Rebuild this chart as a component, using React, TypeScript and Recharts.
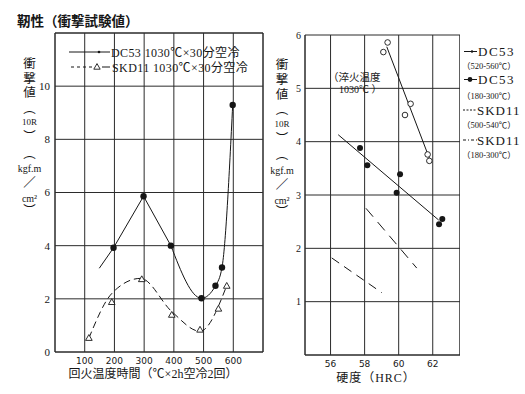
import React from 'react';
import { ComposedChart, Line, XAxis, YAxis, CartesianGrid, ReferenceLine } from 'recharts';

const SERIF = '"Liberation Serif", "Noto Sans CJK JP", serif';
const SANS = '"DejaVu Sans", "Noto Sans CJK JP", sans-serif';
const INK = '#161616';
const GRID = '#2b2b2b';

// left panel: tempering temperature (°C) vs impact value
const temperTicks = [100, 200, 300, 400, 500, 600];
const impactTicks = [0, 2, 4, 6, 8, 10];

const dc53Temps = [197, 298, 390, 493, 540, 562, 598];
const dc53Impact = [3.92, 5.86, 4.0, 2.02, 2.49, 3.18, 9.29];
// straight part of the DC53 trace, then the curved part
const dc53LineTemps = [149, 197, 298, 390];
const dc53LineImpact = [3.15, 3.92, 5.86, 4.0];
const dc53CurveTemps = [390, 493, 540, 562, 598];
const dc53CurveImpact = [4.0, 2.02, 2.49, 3.18, 9.29];

const skd11Temps = [114, 191, 292, 393, 488, 550, 578];
const skd11Impact = [0.52, 1.87, 2.73, 1.39, 0.83, 1.62, 2.48];
const skd11CurveTemps = [114, 191, 288, 393, 488, 578];
const skd11CurveImpact = [0.52, 2.2, 2.77, 1.52, 0.78, 2.5];

// right panel: hardness (HRC) vs impact value
const hrcTicks = [56, 58, 60, 62];
const impactTicksR = [1, 2, 3, 4, 5, 6];

const dc53HighHrc = [59.1, 59.35, 60.37, 60.7, 61.7, 61.8];
const dc53HighImpact = [5.68, 5.86, 4.5, 4.71, 3.76, 3.64];
const dc53HighFitHrc = [59.3, 61.8];
const dc53HighFitImpact = [5.78, 3.69];

const dc53LowHrc = [57.73, 58.16, 60.08, 59.88, 62.37, 62.56];
const dc53LowImpact = [3.88, 3.56, 3.39, 3.04, 2.45, 2.55];
const dc53LowFitHrc = [56.45, 62.35];
const dc53LowFitImpact = [4.13, 2.53];

const skd11HighFitHrc = [56.07, 59.0];
const skd11HighFitImpact = [1.82, 1.17];
const skd11LowFitHrc = [58.08, 61.06];
const skd11LowFitImpact = [2.75, 1.63];

type Pt = { x: number; y: number };
const rows = (xs: number[], ys: number[]): Pt[] => xs.map((x, i) => ({ x, y: ys[i] }));

const filledDot = (r: number) => (p: any) =>
  <circle key={`f${p.index}`} cx={p.cx} cy={p.cy} r={r} fill={INK} />;
const openDot = (p: any) =>
  <circle key={`o${p.index}`} cx={p.cx} cy={p.cy} r={2.8} fill="#fff" stroke={INK} strokeWidth={0.9} />;
const triangleDot = (p: any) => (
  <polygon
    key={`t${p.index}`}
    points={`${p.cx},${p.cy - 3.6} ${p.cx + 3.3},${p.cy + 2.2} ${p.cx - 3.3},${p.cy + 2.2}`}
    fill="#fff"
    stroke={INK}
    strokeWidth={0.9}
  />
);

const yLabelParts = ['衝', '撃', '値', '︵', '10R', '︶', '︵', 'kgf.m', '／', 'cm²', '︶'];
const yLabelOffsets = [0, 15, 29.5, 45, 58.5, 73.5, 90, 105, 119.5, 135, 147];
const partSize = (s: string) => (s === '10R' ? 9 : s === 'kgf.m' || s === 'cm²' ? 10 : 12.5);

const VerticalLabel = ({ x, y }: { x: number; y: number }) => (
  <g>
    {yLabelParts.map((s, i) => (
      <text
        key={i}
        x={x}
        y={y + yLabelOffsets[i]}
        textAnchor="middle"
        dominantBaseline="central"
        fontSize={partSize(s)}
        fontFamily={SERIF}
        fill={INK}
      >
        {s}
      </text>
    ))}
  </g>
);

const App: React.FC = () => {
  return (
    <div style={{ position: 'absolute', left: 0, top: 0, width: 525, height: 394, background: '#fff' }}>
      <div style={{ position: 'absolute', left: 0, top: 0 }}>
        <ComposedChart width={270} height={394} margin={{ top: 33, right: 7, bottom: 14, left: 25 }}>
          <CartesianGrid stroke={GRID} strokeWidth={1} />
          <XAxis
            type="number"
            dataKey="x"
            domain={[0, 700]}
            ticks={temperTicks}
            interval={0}
            allowDataOverflow
            height={28}
            tickLine={false}
            tickSize={4}
            axisLine={{ stroke: GRID }}
            tick={{ fontSize: 9, fontFamily: SANS, fill: INK }}
          />
          <YAxis
            type="number"
            dataKey="y"
            domain={[0, 12]}
            ticks={impactTicks}
            interval={0}
            allowDataOverflow
            width={30}
            tickLine={false}
            tickSize={3}
            axisLine={{ stroke: GRID }}
            tick={{ fontSize: 11, fontFamily: SERIF, fill: INK }}
          />
          <ReferenceLine y={12} stroke={GRID} ifOverflow="visible" />
          <ReferenceLine x={700} stroke={GRID} ifOverflow="visible" />
          <Line data={rows(dc53LineTemps, dc53LineImpact)} dataKey="y" type="linear" stroke={INK} strokeWidth={1} dot={false} activeDot={false} isAnimationActive={false} />
          <Line data={rows(dc53CurveTemps, dc53CurveImpact)} dataKey="y" type="monotone" stroke={INK} strokeWidth={1} dot={false} activeDot={false} isAnimationActive={false} />
          <Line data={rows(skd11CurveTemps, skd11CurveImpact)} dataKey="y" type="monotone" stroke={INK} strokeWidth={1} strokeDasharray="7 4" dot={false} activeDot={false} isAnimationActive={false} />
          <Line data={rows(dc53Temps, dc53Impact)} dataKey="y" stroke="none" dot={filledDot(3.2)} activeDot={false} isAnimationActive={false} />
          <Line data={rows(skd11Temps, skd11Impact)} dataKey="y" stroke="none" dot={triangleDot} activeDot={false} isAnimationActive={false} />
        </ComposedChart>
      </div>

      <div style={{ position: 'absolute', left: 260, top: 0 }}>
        <ComposedChart width={200} height={394} margin={{ top: 35, right: 0, bottom: 14, left: 25 }}>
          <CartesianGrid stroke={GRID} strokeWidth={1} />
          <XAxis
            type="number"
            dataKey="x"
            domain={[54.5, 63.6]}
            ticks={hrcTicks}
            interval={0}
            allowDataOverflow
            height={25}
            tickLine={false}
            tickSize={4}
            axisLine={{ stroke: GRID }}
            tick={{ fontSize: 9, fontFamily: SANS, fill: INK }}
          />
          <YAxis
            type="number"
            dataKey="y"
            domain={[0, 6]}
            ticks={impactTicksR}
            interval={0}
            allowDataOverflow
            width={20}
            tickLine={false}
            tickSize={2}
            axisLine={{ stroke: GRID }}
            tick={{ fontSize: 10, fontFamily: SERIF, fill: INK }}
          />
          <ReferenceLine x={63.6} stroke={GRID} ifOverflow="visible" />
          <Line data={rows(dc53HighFitHrc, dc53HighFitImpact)} dataKey="y" type="linear" stroke={INK} strokeWidth={1} dot={false} activeDot={false} isAnimationActive={false} />
          <Line data={rows(dc53LowFitHrc, dc53LowFitImpact)} dataKey="y" type="linear" stroke={INK} strokeWidth={1} dot={false} activeDot={false} isAnimationActive={false} />
          <Line data={rows(skd11HighFitHrc, skd11HighFitImpact)} dataKey="y" type="linear" stroke={INK} strokeWidth={1} strokeDasharray="9 6" dot={false} activeDot={false} isAnimationActive={false} />
          <Line data={rows(skd11LowFitHrc, skd11LowFitImpact)} dataKey="y" type="linear" stroke={INK} strokeWidth={1} strokeDasharray="11 7" dot={false} activeDot={false} isAnimationActive={false} />
          <Line data={rows(dc53HighHrc, dc53HighImpact)} dataKey="y" stroke="none" dot={openDot} activeDot={false} isAnimationActive={false} />
          <Line data={rows(dc53LowHrc, dc53LowImpact)} dataKey="y" stroke="none" dot={filledDot(3)} activeDot={false} isAnimationActive={false} />
        </ComposedChart>
      </div>

      <svg width={525} height={394} style={{ position: 'absolute', left: 0, top: 0, pointerEvents: 'none' }}>
        <text x={17} y={26} fontSize={13.5} fontWeight="bold" fontFamily={SERIF} fill={INK}>
          靭性（衝撃試験値）
        </text>

        {/* left legend */}
        <line x1={69} y1={52} x2={110} y2={52} stroke={INK} strokeWidth={1} />
        <circle cx={99} cy={52} r={1.3} fill={INK} />
        <text x={111} y={56.5} fontSize={12} fontFamily={SERIF} fill={INK} letterSpacing={0.4}>
          DC53 1030℃×30分空冷
        </text>
        <line x1={71} y1={67} x2={93} y2={67} stroke={INK} strokeWidth={1} strokeDasharray="3 3" />
        <polygon points="97,63.6 100.2,69.2 93.8,69.2" fill="#fff" stroke={INK} strokeWidth={0.9} />
        <line x1={102} y1={67} x2={110} y2={67} stroke={INK} strokeWidth={1} />
        <text x={112} y={71.5} fontSize={12} fontFamily={SERIF} fill={INK} letterSpacing={0.4}>
          SKD11 1030℃×30分空冷
        </text>

        <VerticalLabel x={29.5} y={63.5} />
        <text x={153} y={378} textAnchor="middle" fontSize={12} fontFamily={SERIF} fill={INK}>
          回火温度時間（℃×2h空冷2回）
        </text>

        {/* right panel */}
        <VerticalLabel x={282} y={65} />
        <text x={376} y={382} textAnchor="middle" fontSize={12} fontFamily={SERIF} fill={INK} letterSpacing={1}>
          硬度（HRC）
        </text>
        <text x={328} y={81} fontSize={10.5} fontFamily={SERIF} fill={INK}>
          （淬火温度
        </text>
        <text x={339} y={93} fontSize={10} fontFamily={SERIF} fill={INK}>
          1030℃ ）
        </text>

        {/* right legend */}
        <line x1={464} y1={51.5} x2={477} y2={51.5} stroke={INK} strokeWidth={1} />
        <circle cx={472} cy={51.5} r={1.2} fill={INK} />
        <text x={478} y={56} fontSize={13} fontFamily={SERIF} fill={INK} letterSpacing={1.5}>DC53</text>
        <text x={462} y={69} fontSize={8.5} fontFamily={SERIF} fill={INK}>（520-560℃）</text>

        <line x1={464} y1={79.5} x2={477} y2={79.5} stroke={INK} strokeWidth={1} />
        <circle cx={470} cy={79.5} r={2.4} fill={INK} />
        <text x={478} y={84} fontSize={13} fontFamily={SERIF} fill={INK} letterSpacing={1.5}>DC53</text>
        <text x={462} y={98.5} fontSize={8.5} fontFamily={SERIF} fill={INK}>（180-300℃）</text>

        <line x1={463} y1={110} x2={477} y2={110} stroke={INK} strokeWidth={1} strokeDasharray="2 1.5" />
        <text x={477} y={114.5} fontSize={13} fontFamily={SERIF} fill={INK} letterSpacing={1}>SKD11</text>
        <text x={462} y={128} fontSize={8.5} fontFamily={SERIF} fill={INK}>（500-540℃）</text>

        <line x1={463} y1={140} x2={477} y2={140} stroke={INK} strokeWidth={1} strokeDasharray="3 2 1 2" />
        <text x={477} y={144.5} fontSize={13} fontFamily={SERIF} fill={INK} letterSpacing={1}>SKD11</text>
        <text x={462} y={158} fontSize={8.5} fontFamily={SERIF} fill={INK}>（180-300℃）</text>
      </svg>
    </div>
  );
};

export default App;
